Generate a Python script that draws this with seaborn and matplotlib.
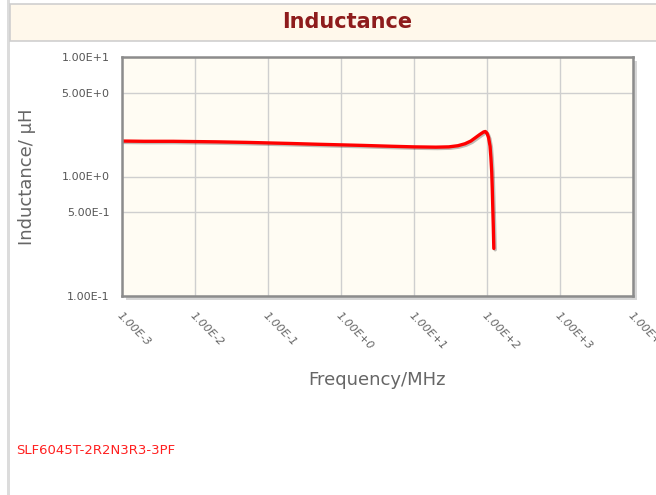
import numpy as np
import pandas as pd
import seaborn as sns
import matplotlib.pyplot as plt
import matplotlib.patheffects as pe
from matplotlib.patches import Rectangle

# inductance sweep
freq_mhz = [0.001, 0.002, 0.005, 0.01, 0.02, 0.05, 0.1, 0.2, 0.5, 1, 2, 5,
            10, 20, 30, 40, 50, 60, 70, 80, 90, 95, 100, 105, 110, 113,
            116, 118, 120, 122, 124]
inductance_uh = [1.98, 1.97, 1.97, 1.96, 1.95, 1.93, 1.91, 1.89, 1.86, 1.84,
                 1.82, 1.79, 1.77, 1.76, 1.77, 1.81, 1.88, 1.98, 2.12, 2.25,
                 2.36, 2.38, 2.30, 2.12, 1.80, 1.45, 1.10, 0.80, 0.55, 0.38,
                 0.25]

x_ticks = [1e-3, 1e-2, 1e-1, 1e0, 1e1, 1e2, 1e3, 1e4]
x_tick_labels = ["1.00E-3", "1.00E-2", "1.00E-1", "1.00E+0", "1.00E+1",
                 "1.00E+2", "1.00E+3", "1.00E+4"]
y_ticks = [0.1, 0.5, 1, 5, 10]
y_tick_labels = ["1.00E-1", "5.00E-1", "1.00E+0", "5.00E+0", "1.00E+1"]

part_name = "SLF6045T-2R2N3R3-3PF"

df = pd.DataFrame({"freq": freq_mhz, "L": inductance_uh})

sns.set_style("white")
plt.rcParams["font.family"] = ["DejaVu Sans"]

fig = plt.figure(figsize=(6.56, 4.95), dpi=100)
W, H = 656, 495

# left border strip and title band
fig.patches.append(Rectangle((7 / W, 0), 3 / W, 1, transform=fig.transFigure,
                             facecolor="#dcdcdc", edgecolor="none", zorder=0))
fig.patches.append(Rectangle((10 / W, 1 - 41 / H), 1, 37 / H,
                             transform=fig.transFigure, facecolor="#fff8eb",
                             edgecolor="#cfcfcf", lw=1.2, zorder=0))
fig.text(347 / W, 1 - 22 / H, "Inductance", ha="center", va="center",
         fontsize=15, fontweight="bold", color="#8e1c1c")

left, right, top, bottom = 122, 633, 57, 296
ax = fig.add_axes([left / W, 1 - bottom / H, (right - left) / W, (bottom - top) / H])
ax.set_zorder(2)

# drop shadow behind the frame
fig.patches.append(Rectangle(((left + 4) / W, 1 - (bottom + 4) / H),
                             (right - left) / W, (bottom - top) / H,
                             transform=fig.transFigure, facecolor="#d6d6d6",
                             edgecolor="none", zorder=0))

ax.set_facecolor("#fffcf3")
sns.lineplot(data=df, x="freq", y="L", ax=ax, color="#ff0000", lw=2.4,
             path_effects=[pe.SimpleLineShadow(offset=(1, -1), alpha=0.25), pe.Normal()])

ax.set_xscale("log")
ax.set_yscale("log")
ax.set_xlim(1e-3, 1e4)
ax.set_ylim(0.1, 10)
ax.minorticks_off()
ax.set_xticks(x_ticks)
ax.set_xticklabels(x_tick_labels, rotation=-45, ha="left", va="top",
                   rotation_mode="anchor", fontsize=8, color="#666666",
                   style="italic")
ax.set_yticks(y_ticks)
ax.set_yticklabels(y_tick_labels, fontsize=8, color="#555555")
ax.tick_params(axis="both", which="major", direction="out", length=5,
               width=1, color="#888888", pad=4)
ax.tick_params(axis="x", pad=5)

ax.grid(True, color="#cfcfcf", lw=1)
for s in ax.spines.values():
    s.set_color("#8c8c8c")
    s.set_linewidth(1.8)

ax.set_xlabel("Frequency/MHz", fontsize=13, color="#666666", labelpad=14)
ax.set_ylabel("Inductance/ µH", fontsize=13, color="#666666", labelpad=18)

fig.text(16 / W, 1 - 451 / H, part_name, ha="left", va="center",
         fontsize=9.5, color="#ff2020")

fig.savefig("out.png", dpi=100)
